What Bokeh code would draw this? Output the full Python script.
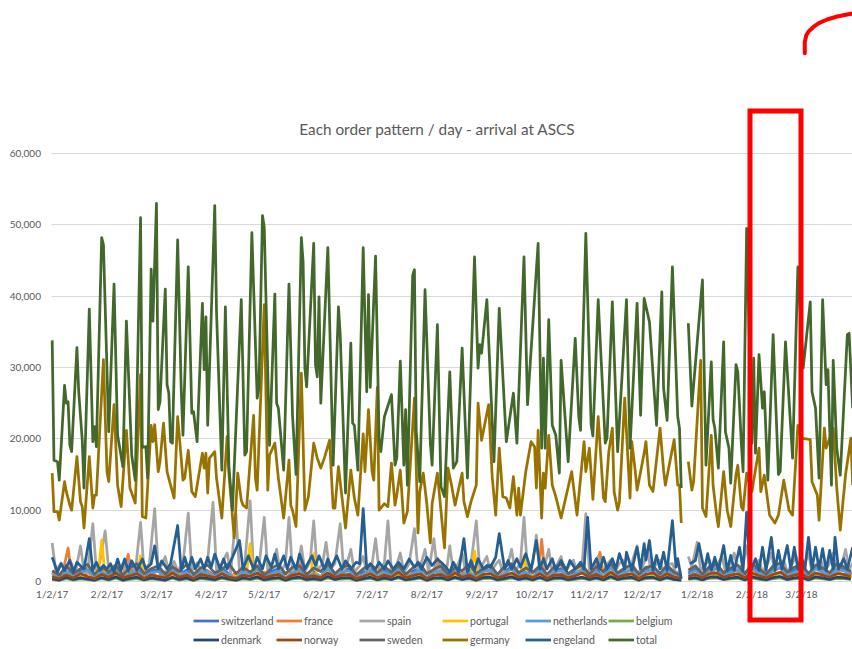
import datetime as dt

from bokeh.embed import file_html
from bokeh.models import (ColumnDataSource, DatetimeTickFormatter, FixedTicker, Label,
                          Legend, LegendItem, NumeralTickFormatter, PolyAnnotation, Range1d)
from bokeh.plotting import figure
from bokeh.resources import INLINE

NAN = float("nan")
START = dt.datetime(2017, 1, 2)

# ---------------------------------------------------------------- data
# day offsets from 2017-01-02; NaN marks the missing days around new year
total_days = [
    0, 1, 3, 4, 7, 8, 9, 10, 11, 14,
    15, 17, 18, 21, 23, 24, 25, 28, 29, 32,
    35, 37, 40, 42, 45, 47, 50, 51, 53, 54,
    56, 57, 59, 60, 61, 64, 65, 66, 67, 68,
    71, 73, 74, 77, 79, 80, 82, 85, 86, 87,
    88, 92, 93, 96, 98, 100, 102, 107, 109, 110,
    113, 116, 117, 119, 120, 123, 126, 127, 128, 131,
    134, 136, 138, 141, 142, 143, 144, 148, 149, 150,
    151, 152, 156, 159, 162, 163, 166, 169, 170, 171,
    173, 176, 178, 179, 180, 183, 185, 186, 188, 192,
    194, 195, 197, 199, 200, 201, 204, 205, 206, 208,
    211, 214, 215, 218, 220, 222, 225, 227, 229, 232,
    235, 239, 241, 242, 243, 246, 250, 253, 257, 261,
    263, 267, 269, 275, 277, 278, 279, 281, 283, 285,
    287, 288, 292, 296, 298, 299, 302, 305, 306, 309,
    313, 314, 317, 320, 325, 327, 331, 333, 335, 338,
    342, 345, 346, 348, 351, 354, 355, 356, 358, 360,
    362, 368, 370, 373, 374, 375, 377, 380, 381, 383,
    384, 387, 388, 390, 391, 393, 396, 397, 398, 400,
    402, 403, 405, 408, 411, 412, 415, 419, 422, 425,
    429, 430, 432, 434, 436, 438, 439, 441, 442, 444,
    446, 450, 451, 453,
]
total_vals = [
    33800, 17000, 16800, 14200, 27500, 25000, 25200, 19100, 18200, 32800,
    26600, 19800, 13100, 38200, 19600, 21700, 18900, 48200, 47200, 21000,
    41700, 20500, 16100, 36500, 17700, 14200, 51000, 18800, 18900, 14500,
    43800, 36500, 53000, 24100, 25200, 41000, 27600, 26400, 19600, 19400,
    47900, 27100, 20500, 44100, 23600, 23800, 19600, 39000, 29700, 37100,
    21900, 52700, 37800, 15600, 38500, 16100, 10000, 39500, 17700, 18200,
    48900, 25700, 27100, 51300, 49700, 19100, 40300, 25000, 24300, 15600,
    41700, 23300, 15000, 48200, 44800, 29900, 27300, 47400, 30400, 28700,
    39900, 25000, 46800, 16300, 38500, 34600, 12400, 33400, 22200, 21900,
    15600, 46800, 26600, 40200, 27200, 45600, 20100, 18200, 23100, 26200,
    16300, 17300, 30900, 16300, 24100, 13500, 42900, 43700, 21200, 14000,
    40900, 19400, 16300, 36000, 13300, 11900, 29400, 15900, 16800, 32700,
    14500, 45500, 29900, 33200, 32000, 39500, 16800, 38300, 19600, 26400,
    19400, 45500, 24800, 47400, 18700, 31300, 18700, 36700, 21900, 20500,
    15200, 31000, 16800, 34100, 23100, 21200, 48800, 22000, 20400, 39500,
    19400, 20100, 39200, 18200, 39500, 18700, 39000, 23300, 39700, 36400,
    21900, 40600, 27100, 22600, 44100, 23100, 21500, 13100, NAN, 36200,
    24600, 42300, 16300, 30800, 22700, 21500, 15900, 33600, 21000, 18700,
    13800, 30400, 29400, 19400, 15400, 49500, 19400, 31300, 18000, 31800,
    24300, 26600, 14200, 34600, 15000, 15400, 33600, 17300, 44100, 29900,
    39200, 26600, 24300, 14500, 39500, 27600, 29700, 13500, 31000, 18700,
    14900, 34600, 34800, 24300,
]

germany_days = [
    0, 1, 3, 4, 7, 8, 10, 11, 14, 16,
    17, 18, 21, 23, 24, 25, 29, 31, 32, 35,
    37, 39, 42, 44, 47, 50, 51, 53, 56, 57,
    58, 60, 61, 63, 65, 67, 69, 71, 73, 74,
    75, 77, 79, 81, 85, 86, 87, 88, 89, 92,
    93, 96, 99, 100, 103, 105, 107, 108, 110, 114,
    115, 116, 120, 122, 123, 126, 128, 131, 134, 135,
    136, 138, 141, 143, 145, 148, 150, 152, 154, 157,
    159, 160, 162, 164, 166, 169, 171, 173, 176, 177,
    179, 181, 182, 184, 185, 188, 190, 192, 194, 195,
    197, 199, 201, 205, 207, 208, 210, 212, 214, 215,
    218, 222, 224, 226, 228, 232, 233, 235, 237, 240,
    241, 243, 247, 249, 251, 253, 255, 257, 259, 261,
    263, 264, 265, 268, 271, 273, 274, 275, 277, 278,
    279, 281, 283, 285, 288, 294, 297, 301, 302, 304,
    306, 309, 312, 313, 315, 317, 318, 320, 321, 324,
    327, 328, 330, 331, 333, 335, 336, 338, 340, 344,
    346, 347, 352, 354, 355, 356, 358, 360, 362, 363,
    367, 368, 370, 373, 374, 376, 377, 380, 382, 384,
    387, 388, 390, 391, 393, 396, 400, 401, 403, 406,
    409, 411, 414, 417, 419, 422, 424, 429, 430, 433,
    434, 437, 438, 442, 444, 446, 449, 452, 453,
]
germany_vals = [
    15200, 9800, 9800, 8600, 14000, 12600, 10700, 10000, 17500, 11200,
    10500, 7500, 17500, 10300, 12100, 12100, 31100, 15400, 14000, 24800,
    13500, 10500, 21200, 13100, 11000, 29000, 9100, 8900, 21900, 19600,
    22000, 15400, 16800, 22200, 15400, 13500, 11700, 23100, 17300, 14200,
    14500, 18400, 12600, 11900, 18000, 15900, 18000, 12400, 17300, 18200,
    14500, 8900, 20300, 15200, 6100, 15200, 11400, 10700, 10300, 23300,
    14500, 12800, 38800, 12800, 17700, 19400, 14500, 8900, 17000, 10700,
    10000, 7700, 29200, 10000, 11900, 19400, 17300, 15900, 17300, 19800,
    10300, 10300, 16100, 11800, 7500, 15600, 11700, 9300, 20700, 15400,
    24100, 15400, 14200, 27200, 10000, 10900, 10500, 16600, 10700, 12100,
    15600, 8200, 9800, 25700, 6800, 12600, 15200, 10900, 5400, 10900,
    15200, 4700, 15900, 13500, 10700, 15200, 11200, 9100, 11200, 13500,
    25000, 19800, 24800, 14700, 9300, 18700, 11900, 11700, 10300, 14700,
    9300, 13100, 9300, 15400, 19600, 18900, 13100, 21200, 8900, 15200,
    13100, 20500, 13500, 11900, 8900, 15400, 9300, 19600, 15400, 18700,
    11500, 23100, 11700, 11200, 18200, 21500, 12600, 10000, 11200, 25700,
    11700, 19600, 15400, 12800, 15400, 18000, 19600, 13500, 12600, 21500,
    15600, 13500, 19900, 13500, 13500, 8200, NAN, 16800, 12800, 14000,
    31000, 10300, 9100, 20500, 13500, 9300, 7700, 15400, 10000, 7700,
    15000, 16300, 10500, 10000, 15200, 12600, 18700, 12600, 14900, 9300,
    8200, 9300, 14200, 10000, 9300, 21900, 20100, 19900, 14000, 12100,
    8600, 21500, 18700, 21500, 13100, 7200, 15000, 20100, 13500,
]

engeland_days = [
    0, 3, 5, 7, 10, 12, 14, 16, 18, 21,
    23, 25, 27, 29, 31, 33, 35, 37, 39, 41,
    43, 45, 48, 51, 53, 56, 58, 60, 62, 65,
    67, 71, 73, 75, 77, 79, 81, 84, 86, 88,
    90, 92, 95, 97, 99, 102, 106, 108, 111, 114,
    116, 119, 121, 124, 126, 128, 131, 133, 135, 138,
    140, 143, 147, 149, 151, 154, 156, 158, 161, 164,
    166, 169, 172, 174, 176, 178, 180, 183, 185, 188,
    190, 193, 196, 199, 202, 205, 207, 209, 212, 215,
    218, 222, 225, 227, 230, 233, 235, 237, 239, 241,
    244, 246, 248, 251, 253, 256, 258, 260, 263, 265,
    268, 271, 274, 276, 278, 280, 283, 285, 288, 291,
    293, 296, 299, 301, 303, 305, 308, 310, 312, 314,
    317, 319, 321, 324, 325, 328, 331, 333, 335, 336,
    338, 340, 342, 344, 346, 348, 351, 353, 354, 356,
    358, 361, 364, 366, 369, 371, 373, 375, 377, 380,
    382, 384, 386, 389, 391, 393, 395, 398, 400, 402,
    404, 407, 409, 411, 413, 416, 418, 420, 422, 424,
    426, 428, 430, 432, 434, 436, 438, 440, 442, 443,
    445, 448, 450, 453,
]
engeland_vals = [
    3400, 1300, 2500, 1550, 3000, 1300, 2700, 2200, 1750, 6000,
    1550, 2700, 1550, 2250, 1750, 2500, 1300, 3150, 1550, 3150,
    1550, 2900, 1550, 3150, 1750, 2500, 5000, 1750, 2900, 1750,
    2500, 7850, 1550, 3400, 1750, 3400, 1750, 3150, 1750, 3400,
    2000, 3850, 1750, 3150, 1750, 3400, 5750, 1750, 3600, 1750,
    3400, 1750, 3600, 2000, 3850, 1750, 3600, 1750, 3400, 1750,
    3850, 1750, 3600, 2250, 3600, 1750, 3150, 2000, 3600, 1750,
    2900, 1750, 2700, 2500, 10200, 1750, 2500, 1750, 2700, 1750,
    2900, 1750, 2700, 1750, 3150, 2000, 2700, 1750, 3400, 2250,
    3150, 2250, 1300, 2700, 1300, 6000, 1300, 2950, 1550, 3200,
    1750, 2250, 2000, 3400, 6700, 1750, 2950, 1750, 3200, 2000,
    3900, 1550, 5750, 1750, 3200, 1750, 3200, 1550, 2950, 1550,
    2950, 1750, 2700, 1750, 9000, 1750, 3200, 1750, 3400, 1750,
    3200, 1750, 3900, 1750, 4100, 1550, 4800, 1750, 5300, 3000,
    5750, 1550, 3650, 1750, 4100, 1550, 8550, 2000, 3200, 400,
    NAN, 2500, 2950, 5300, 1550, 3900, 1550, 3400, 1550, 5050,
    1550, 3650, 1550, 4800, 1550, 9700, 1300, 3200, 1550, 4800,
    1550, 6200, 1550, 4350, 1750, 5050, 1750, 4800, 1750, 3400,
    1750, 6200, 1750, 4800, 1750, 4600, 1550, 4350, 1750, 6200,
    1750, 3200, 1750, 4800,
]

spain_days = [
    0, 2, 5, 8, 11, 13, 16, 18, 20, 23,
    25, 27, 30, 32, 35, 37, 40, 42, 44, 47,
    50, 52, 55, 58, 60, 62, 64, 66, 69, 71,
    74, 77, 79, 82, 85, 88, 91, 93, 96, 99,
    101, 104, 106, 109, 112, 114, 117, 120, 122, 125,
    127, 129, 132, 134, 136, 139, 141, 143, 146, 148,
    150, 153, 155, 157, 160, 163, 165, 167, 169, 171,
    174, 176, 178, 181, 183, 185, 188, 190, 192, 195,
    197, 199, 202, 205, 207, 209, 211, 213, 216, 218,
    221, 223, 225, 227, 230, 232, 234, 237, 240, 242,
    244, 246, 248, 251, 253, 255, 258, 260, 262, 265,
    267, 269, 272, 274, 276, 279, 281, 283, 286, 288,
    290, 293, 295, 297, 300, 302, 304, 307, 309, 311,
    314, 316, 318, 321, 323, 325, 328, 331, 333, 335,
    337, 339, 342, 344, 346, 349, 351, 353, 356, 358,
    360, 362, 365, 367, 370, 372, 374, 377, 379, 381,
    384, 386, 388, 391, 393, 395, 398, 400, 402, 405,
    407, 409, 412, 414, 416, 419, 421, 423, 426, 428,
    430, 433, 435, 437, 440, 442, 444, 447, 449, 451,
    453,
]
spain_vals = [
    5400, 1500, 2600, 1200, 2500, 1000, 5000, 1500, 1200, 8100,
    1500, 2800, 7100, 1500, 2200, 1000, 2500, 1200, 3000, 1300,
    8300, 1500, 2500, 10200, 1800, 2300, 3500, 1200, 2800, 1500,
    2500, 9600, 1500, 2600, 1200, 3000, 11100, 1500, 2500, 4000,
    1200, 9500, 1300, 2500, 11300, 1500, 2000, 9000, 1500, 2800,
    4500, 1200, 2500, 9000, 1300, 2400, 5000, 1400, 2800, 8500,
    1500, 2500, 5500, 1600, 2500, 8100, 1400, 2600, 4500, 1300,
    2200, 3500, 1200, 2400, 6000, 1400, 2600, 8500, 1300, 2300,
    4000, 1300, 2500, 7400, 1500, 2700, 4500, 1300, 6000, 1200,
    2500, 1200, 5000, 1300, 2600, 4000, 1300, 2500, 8500, 1500,
    2600, 3500, 1200, 2400, 3000, 1200, 2600, 4500, 1300, 2700,
    9000, 1500, 2600, 6500, 1300, 2500, 4500, 1300, 2500, 3500,
    1200, 2400, 3000, 1200, 2600, 9500, 1500, 2600, 3500, 1300,
    2400, 3000, 1200, 2500, 3000, 1200, 2600, 5000, 1300, 2700,
    4000, 1400, 2500, 3000, 1300, 2400, 2500, 1200, 1500, NAN,
    3500, 2000, 5500, 1500, 2500, 3000, 1300, 2600, 3500, 1400,
    2600, 4000, 1500, 2500, 5000, 1300, 2500, 3000, 1300, 2600,
    4000, 1400, 2500, 3000, 1300, 2600, 3500, 1400, 2600, 4000,
    1300, 2500, 3000, 1300, 2600, 4000, 1400, 2500, 4500, 1600,
    2600,
]

france_days = [
    0, 3, 6, 9, 11, 14, 17, 20, 24, 28,
    32, 36, 40, 43, 45, 48, 52, 56, 60, 64,
    68, 72, 76, 80, 84, 88, 92, 96, 100, 104,
    108, 112, 116, 120, 124, 128, 132, 136, 139, 141,
    143, 147, 151, 155, 159, 163, 167, 171, 175, 179,
    183, 187, 191, 195, 199, 203, 207, 211, 215, 218,
    220, 224, 228, 232, 236, 240, 244, 248, 252, 256,
    260, 264, 268, 272, 275, 277, 279, 283, 287, 291,
    295, 299, 303, 307, 310, 312, 316, 320, 324, 328,
    332, 336, 340, 344, 348, 352, 356, 358, 361, 365,
    369, 373, 377, 381, 385, 389, 393, 397, 401, 405,
    409, 413, 417, 421, 425, 429, 433, 437, 441, 445,
    449, 453,
]
france_vals = [
    1200, 600, 1300, 4700, 800, 1200, 500, 1300, 700, 1400,
    600, 1200, 700, 3800, 800, 1300, 600, 1200, 700, 1400,
    600, 1300, 700, 1200, 600, 1400, 700, 1300, 600, 1200,
    700, 1400, 600, 1300, 700, 1200, 600, 1300, 700, 3000,
    800, 1300, 600, 1200, 700, 1400, 600, 1300, 700, 1200,
    600, 1300, 700, 1400, 600, 1200, 700, 1300, 700, 3300,
    800, 1200, 600, 1300, 700, 1400, 600, 1200, 700, 1300,
    600, 1400, 700, 1200, 700, 5900, 800, 1300, 600, 1200,
    700, 1400, 600, 1300, 4100, 800, 1200, 600, 1300, 700,
    1400, 600, 1200, 700, 1300, 600, 900, NAN, 1300, 700,
    1400, 600, 1300, 700, 1200, 600, 1400, 1600, 700, 1300,
    600, 1400, 700, 1300, 600, 1200, 700, 1400, 600, 1300,
    700, 1200,
]

portugal_days = [
    0, 4, 8, 12, 16, 20, 24, 26, 28, 30,
    34, 38, 42, 46, 48, 50, 52, 56, 60, 64,
    68, 72, 76, 80, 84, 88, 92, 96, 100, 104,
    108, 110, 112, 114, 118, 122, 126, 130, 134, 138,
    142, 146, 148, 150, 154, 158, 162, 166, 170, 174,
    178, 182, 186, 190, 194, 198, 202, 206, 210, 214,
    218, 222, 226, 230, 234, 237, 239, 241, 245, 249,
    253, 257, 261, 265, 267, 269, 273, 277, 281, 285,
    289, 293, 297, 300, 302, 306, 310, 314, 318, 322,
    326, 330, 334, 338, 342, 346, 350, 354, 356, 358,
    361, 365, 369, 373, 377, 381, 385, 389, 393, 395,
    397, 401, 405, 409, 413, 417, 421, 425, 429, 433,
    437, 441, 445, 449, 453,
]
portugal_vals = [
    900, 400, 1100, 500, 1000, 400, 1200, 800, 5800, 700,
    1000, 400, 1100, 500, 900, 3600, 600, 1000, 400, 1100,
    500, 1000, 400, 1200, 500, 1000, 400, 1100, 500, 1000,
    400, 1200, 5300, 700, 1000, 400, 1100, 500, 1000, 400,
    1100, 600, 3900, 700, 1000, 400, 1100, 500, 1000, 400,
    1200, 500, 1000, 400, 1100, 500, 1000, 400, 1100, 500,
    1000, 400, 1100, 500, 1000, 600, 4300, 700, 1000, 400,
    1100, 500, 1000, 600, 3600, 600, 1000, 400, 1100, 500,
    1000, 400, 1100, 2500, 600, 1000, 400, 1100, 500, 1000,
    400, 1100, 500, 1000, 400, 1100, 500, 1000, 400, NAN,
    1100, 500, 1200, 500, 1000, 400, 1100, 500, 1200, 2500,
    600, 1000, 400, 1100, 500, 1000, 400, 1200, 500, 1000,
    400, 1100, 500, 1000, 600,
]

# the small countries are read every fourth day
grid_days = list(range(0, 357, 4)) + [358] + list(range(360, 453, 4))

switzerland_vals = [
    1200, 600, 1700, 800, 1500, 1900, 700, 1600, 900, 2000,
    600, 1400, 1800, 700, 1500, 1700, 600, 1900, 1000, 1600,
    600, 1700, 1500, 800, 1800, 1100, 600, 1600, 1200, 2000,
    700, 1400, 1800, 600, 1500, 1900, 800, 1400, 700, 2100,
    800, 1600, 1800, 600, 1300, 1900, 700, 1600, 900, 2000,
    700, 1400, 1900, 600, 1600, 1800, 700, 2000, 900, 1600,
    600, 1700, 1900, 800, 1400, 2100, 900, 1600, 700, 1900,
    600, 1600, 1800, 700, 1400, 2000, 800, 1700, 700, 2200,
    900, 1600, 1900, 600, 1700, 2000, 700, 1900, 900, 600,
    NAN,
    1200, 1800, 700, 1900, 2100, 900, 1600, 1900, 700, 2100,
    1500, 700, 1800, 2200, 900, 1600, 2000, 700, 2100, 1600,
    900, 2000, 1800, 1200,
]
netherlands_vals = [
    900, 500, 1400, 700, 1200, 1600, 600, 1300, 800, 1700,
    500, 1100, 1500, 600, 1200, 1400, 500, 1600, 800, 1300,
    500, 1400, 1200, 700, 1500, 900, 500, 1300, 1000, 1700,
    600, 1100, 1500, 500, 1200, 1600, 700, 1100, 600, 1800,
    700, 1300, 1500, 500, 1000, 1600, 600, 1300, 800, 1700,
    600, 1100, 1600, 500, 1300, 1500, 600, 1700, 800, 1300,
    500, 1400, 1600, 700, 1100, 1800, 800, 1300, 600, 1600,
    500, 1300, 1500, 600, 1100, 1700, 700, 1400, 600, 1900,
    800, 1300, 1600, 500, 1400, 1700, 600, 1600, 800, 500,
    NAN,
    1000, 1500, 600, 1600, 1800, 800, 1300, 1600, 600, 1800,
    1200, 600, 1500, 1900, 800, 1300, 1700, 600, 1800, 1300,
    800, 1700, 1500, 1000,
]
belgium_vals = [
    300, 150, 400, 200, 350, 250, 150, 400, 200, 450,
    150, 300, 400, 200, 350, 250, 150, 450, 200, 350,
    150, 400, 300, 200, 450, 250, 150, 350, 250, 450,
    200, 300, 400, 150, 350, 450, 200, 300, 200, 500,
    250, 350, 400, 150, 300, 450, 200, 350, 250, 500,
    200, 300, 450, 150, 350, 400, 200, 450, 250, 350,
    150, 400, 450, 200, 300, 500, 250, 350, 200, 450,
    150, 350, 400, 200, 300, 450, 250, 400, 200, 500,
    250, 350, 450, 150, 400, 450, 200, 450, 250, 150,
    NAN,
    300, 400, 200, 450, 500, 250, 350, 450, 200, 500,
    300, 200, 400, 500, 250, 350, 450, 200, 500, 350,
    250, 450, 400, 300,
]
denmark_vals = [
    400, 200, 600, 300, 500, 350, 200, 550, 300, 650,
    200, 450, 600, 250, 500, 350, 200, 600, 300, 500,
    200, 550, 450, 250, 600, 350, 200, 500, 350, 650,
    250, 450, 550, 200, 500, 600, 300, 450, 250, 700,
    300, 500, 550, 200, 400, 600, 250, 500, 300, 650,
    250, 400, 600, 200, 500, 550, 250, 600, 300, 500,
    200, 550, 600, 250, 450, 650, 300, 500, 250, 600,
    200, 500, 550, 250, 450, 600, 300, 550, 250, 700,
    300, 500, 600, 200, 550, 600, 250, 600, 300, 200,
    NAN,
    400, 550, 250, 600, 650, 300, 500, 600, 250, 650,
    450, 250, 550, 700, 300, 500, 600, 250, 650, 500,
    300, 600, 550, 350,
]
norway_vals = [
    600, 400, 900, 500, 1100, 700, 400, 1000, 600, 1200,
    500, 800, 1100, 400, 900, 700, 500, 1200, 600, 900,
    400, 1000, 800, 500, 1100, 600, 400, 900, 700, 1200,
    500, 800, 1000, 400, 900, 1100, 600, 800, 500, 1200,
    600, 900, 1000, 400, 700, 1100, 500, 900, 600, 1300,
    500, 800, 1100, 400, 900, 1000, 500, 1200, 600, 900,
    400, 1000, 1100, 500, 800, 1200, 600, 900, 500, 1100,
    400, 900, 1000, 500, 800, 1200, 600, 1000, 500, 1300,
    600, 900, 1100, 400, 1000, 1200, 500, 1100, 600, 400,
    NAN,
    700, 1000, 500, 1100, 1200, 600, 900, 1100, 500, 1200,
    800, 500, 1000, 1300, 600, 900, 1100, 500, 1200, 900,
    600, 1100, 1000, 700,
]
sweden_vals = [
    1500, 900, 2200, 1100, 1800, 2400, 1000, 2000, 1300, 2300,
    900, 1900, 2500, 1100, 1800, 2200, 1000, 2100, 1400, 2400,
    1000, 1900, 2300, 1200, 1700, 2500, 1100, 2000, 1300, 2200,
    900, 1800, 2400, 1100, 2000, 2200, 1000, 1900, 1400, 2500,
    1100, 2000, 2300, 900, 1800, 2400, 1200, 2100, 1300, 2300,
    1000, 1900, 2500, 1100, 1700, 2200, 1000, 2000, 1500, 2400,
    1100, 1800, 2300, 1000, 2100, 2500, 1200, 1900, 1300, 2200,
    1000, 2000, 2400, 1100, 1800, 2300, 1000, 2100, 1400, 2600,
    1200, 1900, 2400, 1000, 2000, 2200, 1100, 2300, 1300, 800,
    NAN,
    1600, 2200, 1000, 2100, 2500, 1200, 1900, 2300, 1100, 2400,
    1800, 1000, 2200, 2600, 1300, 2000, 2400, 1100, 2300, 1900,
    1200, 2500, 2100, 1400,
]

y_ticks = [0, 10000, 20000, 30000, 40000, 50000, 60000]
tick_dates = [dt.datetime(2017 + (m // 12), m % 12 + 1, 2) for m in range(0, 16)]

# ---------------------------------------------------------------- page layout (pixels)
W, H = 852, 649
DAY0_X = 51.7            # page column of 2017-01-02
PX_PER_DAY = 1.767
ZERO_Y, TOP_Y = 581, 153  # page rows of the 0 and 60,000 gridlines
TEXT = "#595959"
FONT = "Lato"

# the frame covers the whole page so the title, legend, axis labels and red
# marks all sit inside it; the ranges are widened to put the data in place
per_px = 60000 / (ZERO_Y - TOP_Y)
y_lo = -(H - ZERO_Y) * per_px
y_hi = 60000 + TOP_Y * per_px
x_lo = START - dt.timedelta(days=DAY0_X / PX_PER_DAY)
x_hi = START + dt.timedelta(days=(W - DAY0_X) / PX_PER_DAY)


def as_dates(days):
    return [START + dt.timedelta(days=d) for d in days]


def ms(d):
    return (d - dt.datetime(1970, 1, 1)).total_seconds() * 1000.0


p = figure(
    width=W, height=H, output_backend="svg", toolbar_location=None,
    x_axis_type="datetime",
    x_range=Range1d(x_lo, x_hi), y_range=Range1d(y_lo, y_hi),
    min_border_left=0, min_border_right=0, min_border_top=0, min_border_bottom=0,
)
p.outline_line_color = None
p.background_fill_color = "white"
p.border_fill_color = "white"
p.xgrid.grid_line_color = None
ygrid = p.ygrid[0]
ygrid.grid_line_color = "#D9D9D9"
ygrid.grid_line_width = 1
if "cross_bounds" in ygrid.properties():
    ygrid.cross_bounds = (ms(START - dt.timedelta(hours=3)), ms(x_hi))

p.yaxis.ticker = FixedTicker(ticks=y_ticks)
p.yaxis.formatter = NumeralTickFormatter(format="0,0")
p.yaxis.fixed_location = ms(START - dt.timedelta(hours=3))
p.xaxis.ticker = FixedTicker(ticks=[ms(d) for d in tick_dates])
fmt = "%-m/%-d/%y"
p.xaxis.formatter = DatetimeTickFormatter(
    milliseconds=fmt, seconds=fmt, minsec=fmt, minutes=fmt, hourmin=fmt,
    hours=fmt, days=fmt, months=fmt, years=fmt)
p.xaxis.fixed_location = 0

for ax in (p.xaxis[0], p.yaxis[0]):
    ax.axis_line_color = None
    ax.major_tick_line_color = None
    ax.minor_tick_line_color = None
    ax.major_tick_out = 0
    ax.major_tick_in = 0
    ax.minor_tick_out = 0
    ax.minor_tick_in = 0
    ax.major_label_text_color = TEXT
    ax.major_label_text_font = FONT
    ax.major_label_text_font_size = "10px"
p.yaxis.major_label_standoff = 11
p.xaxis.major_label_standoff = 6

series = [
    ("switzerland", "#4472C4", grid_days, switzerland_vals),
    ("france", "#ED7D31", france_days, france_vals),
    ("spain", "#A5A5A5", spain_days, spain_vals),
    ("portugal", "#FFC000", portugal_days, portugal_vals),
    ("netherlands", "#5B9BD5", grid_days, netherlands_vals),
    ("belgium", "#70AD47", grid_days, belgium_vals),
    ("denmark", "#264478", grid_days, denmark_vals),
    ("norway", "#9E480E", grid_days, norway_vals),
    ("sweden", "#636363", grid_days, sweden_vals),
    ("germany", "#997300", germany_days, germany_vals),
    ("engeland", "#255E91", engeland_days, engeland_vals),
    ("total", "#43682B", total_days, total_vals),
]

items = []
for name, color, days, vals in series:
    assert len(days) == len(vals), name
    src = ColumnDataSource(dict(x=as_dates(days), y=vals))
    r = p.line("x", "y", source=src, line_color=color, line_width=2.75, line_join="round")
    items.append(LegendItem(label=name, renderers=[r]))

legend = Legend(
    items=items, orientation="horizontal", ncols=6, location=(193, 0),
    label_text_font=FONT, label_text_font_size="10.5px", label_text_color=TEXT,
    glyph_width=26, glyph_height=19, label_height=19, label_width=55,
    label_standoff=2, spacing=0, padding=0, margin=0,
    border_line_color=None, background_fill_alpha=0,
)
p.add_layout(legend)

p.add_layout(Label(
    x=437, y=H - 128, x_units="screen", y_units="screen",
    text="Each order pattern / day - arrival at ASCS", text_align="center",
    text_baseline="middle", text_font=FONT, text_font_size="15.3px", text_color=TEXT,
))


# red hand-drawn marks over the page, given in page pixels
def to_frame(points):
    return [x for x, _ in points], [H - y for _, y in points]


box_pts = [(749.5, 110.5), (800.5, 110.5), (800.5, 619.5), (749.5, 619.5)]
bx, by = to_frame(box_pts)
p.add_layout(PolyAnnotation(xs=bx, ys=by, xs_units="screen", ys_units="screen",
                            line_color="#FF0000", line_alpha=1.0, line_width=5,
                            line_join="miter", fill_color=None, fill_alpha=0))

arc_pts = [(804.3, 52.7), (804.3, 41.7), (805.7, 35.0), (808.3, 30.7), (812.7, 26.7),
           (818.3, 22.7), (826.7, 19.0), (836.7, 16.0), (846.7, 14.0), (852.0, 13.0)]
ax_, ay_ = to_frame(arc_pts + arc_pts[::-1])
p.add_layout(PolyAnnotation(xs=ax_, ys=ay_, xs_units="screen", ys_units="screen",
                            line_color="#FF0000", line_alpha=1.0, line_width=4,
                            line_join="round", fill_color=None, fill_alpha=0))

open("out.html", "w").write(file_html(p, INLINE))
